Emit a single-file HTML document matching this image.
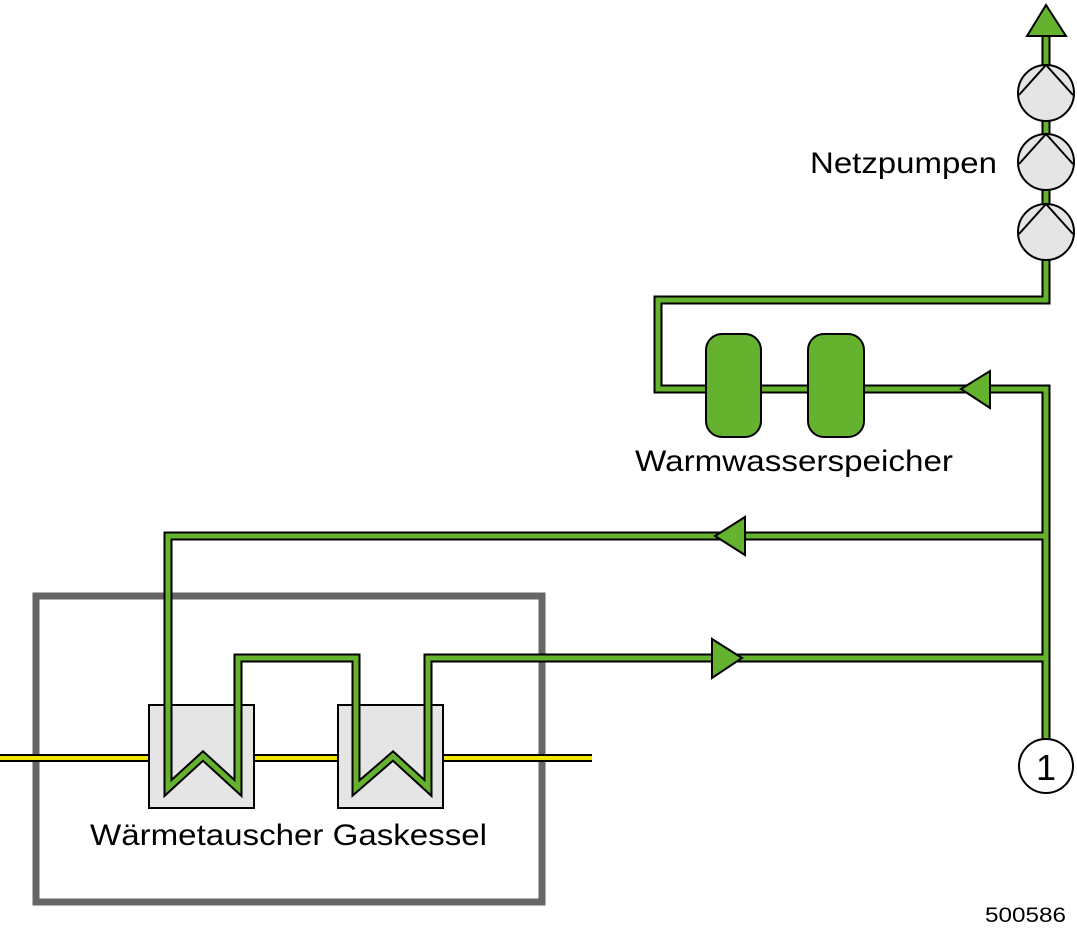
<!DOCTYPE html>
<html><head><style>body{margin:0;background:#fff}svg{display:block}text{font-family:"Liberation Sans",sans-serif;fill:#000}</style></head>
<body>
<svg width="1077" height="932" viewBox="0 0 1077 932" xmlns="http://www.w3.org/2000/svg">
<rect x="36" y="596" width="506" height="306" fill="none" stroke="#666" stroke-width="7"/>
<line x1="0" y1="758" x2="592" y2="758" stroke="#000" stroke-width="8"/>
<line x1="0" y1="758" x2="592" y2="758" stroke="#f2e600" stroke-width="4"/>
<rect x="149" y="705" width="105" height="103" fill="#e5e5e5" stroke="#000" stroke-width="2"/>
<rect x="338" y="705" width="105" height="103" fill="#e5e5e5" stroke="#000" stroke-width="2"/>
<g fill="none" stroke-linejoin="miter">
<g stroke="#000" stroke-width="9">
<path d="M1046,30 V300 H658 V389 H1046 V740"/>
<path d="M1046,536 H168 V788 L203,756 L238,788 V658 H356 V788 L393,756 L428,788 V658 H1046"/>
</g>
<g stroke="#65b22e" stroke-width="5">
<path d="M1046,30 V300 H658 V389 H1046 V740"/>
<path d="M1046,536 H168 V788 L203,756 L238,788 V658 H356 V788 L393,756 L428,788 V658 H1046"/>
</g>
</g>
<rect x="706" y="334" width="55" height="103" rx="16" fill="#65b22e" stroke="#000" stroke-width="2"/>
<rect x="808" y="334" width="56" height="103" rx="16" fill="#65b22e" stroke="#000" stroke-width="2"/>
<g fill="#65b22e" stroke="#000" stroke-width="2" stroke-linejoin="miter">
<polygon points="961,389 990,371 990,408"/>
<polygon points="715,536 745,517 745,555"/>
<polygon points="742,658 712,639 712,678"/>
<polygon points="1046,5 1027,36 1066,36"/>
</g>
<g fill="#e5e5e5" stroke="#000" stroke-width="2">
<circle cx="1046" cy="93" r="28"/>
<path d="M1019,95 L1046,65 L1073,95" fill="none"/>
<circle cx="1046" cy="162" r="28"/>
<path d="M1019,164 L1046,134 L1073,164" fill="none"/>
<circle cx="1046" cy="232" r="28"/>
<path d="M1019,234 L1046,204 L1073,234" fill="none"/>
</g>
<circle cx="1046" cy="766" r="27" fill="#fff" stroke="#000" stroke-width="2"/>
<text x="1046" y="780" font-size="36" text-anchor="middle">1</text>
<text x="810" y="173" font-size="30" textLength="187" lengthAdjust="spacingAndGlyphs">Netzpumpen</text>
<text x="635" y="471" font-size="30" textLength="318" lengthAdjust="spacingAndGlyphs">Warmwasserspeicher</text>
<text x="90" y="845" font-size="30" textLength="397" lengthAdjust="spacingAndGlyphs">Wärmetauscher Gaskessel</text>
<text x="985" y="922" font-size="21" textLength="81" lengthAdjust="spacingAndGlyphs">500586</text>
</svg>
</body></html>
